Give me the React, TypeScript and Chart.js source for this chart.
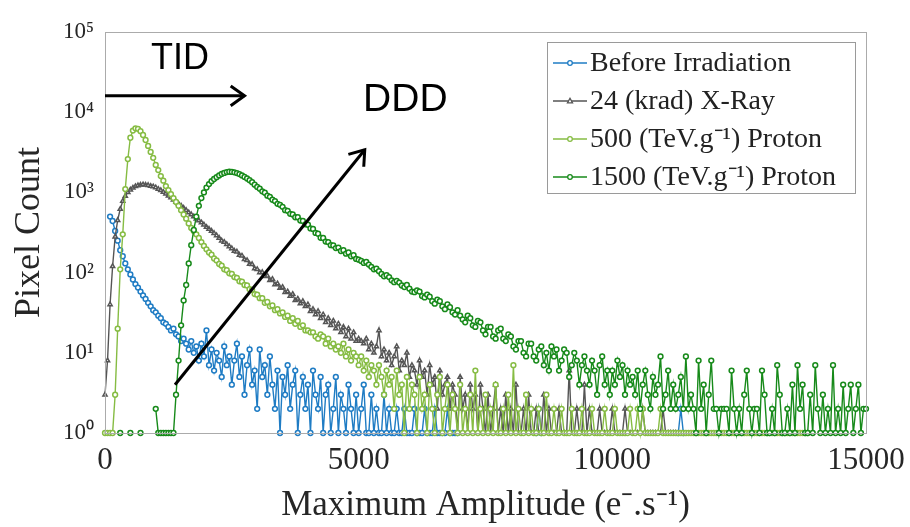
import { useEffect, useRef } from "react";
import { Chart, registerables } from "chart.js";

Chart.register(...registerables);

// ---------- data ----------
const BIN_WIDTH = 50; // e-.s-1 per histogram bin
const BIN_COUNT = 301;
const amplitudeBins: number[] = Array.from({ length: BIN_COUNT }, (_, i) => i * BIN_WIDTH);

const seriesLabels = [
  "Before Irradiation",
  "24 (krad) X-Ray",
  "500 (TeV.g\u207B\u00B9) Proton",
  "1500 (TeV.g\u207B\u00B9) Proton",
];

const beforeIrradiation: (number | null)[] = [
  null, null, 500, 440, 330, 250, 190, 160, 130, 110,
  95, 82, 72, 65, 58, 52, 47, 42, 38, 34,
  32, 29, 27, 24, 23, 21, 19, 20, 17, 16,
  14, 15, 13, 11, 14, 10, 12, 8, 13, 9,
  19, 7, 11, 6, 10, 8, 5, 12, 7, 9,
  4, 8, 13, 5, 9, 3, 7, 11, 4, 6,
  2, 11, 5, 7, 3, 9, 4, 2, 6, 1,
  5, 3, 7, 2, 4, 6, 1, 3, 5, 2,
  4, 1, 6, 3, 2, 5, 1, 3, 4, 1,
  2, 5, 1, 3, 2, 1, 4, 2, 1, 3,
  1, 2, 4, 1, 1, 3, 1, 2, 1, 1,
  3, 1, 2, 1, 1, 2, 1, 1, 2, 1,
  1, 1, 2, 1, 1, 1, 2, 1, 1, 1,
  2, 1, 1, 1, 1, 2, 1, 1, 1, 1,
  null, null, null, null, null, null, null, null, null, null,
  null, null, null, null, null, null, null, null, null, null,
  null, null, null, null, null, null, null, null, null, null,
  1, 2, 1, null, null, null, null, null, null, null,
  null, null, null, null, null, null, null, null, null, null,
  null, null, null, null, null, null, null, null, null, null,
  null, null, null, null, null, null, null, null, null, null,
  null, null, null, null, null, null, null, null, null, null,
  null, null, null, null, null, null, 1, 2, 1, null,
];

const xRay24krad: (number | null)[] = [
  3, 8, 40, 120, 280, 450, 620, 780, 900, 1000,
  1080, 1140, 1190, 1220, 1240, 1250, 1240, 1230, 1200, 1180,
  1150, 1100, 1060, 1010, 960, 910, 860, 810, 760, 720,
  680, 640, 600, 560, 530, 500, 470, 445, 420, 395,
  370, 350, 330, 310, 290, 270, 250, 240, 225, 212,
  200, 186, 182, 166, 162, 146, 142, 128, 127, 112,
  110, 100, 101, 90, 91, 80, 83, 71, 73, 64,
  66, 57, 58, 51, 54, 45, 47, 41, 44, 38,
  40, 33, 35, 30, 33, 27, 30, 24, 27, 22,
  25, 20, 23, 18, 21, 16, 20, 15, 18, 14,
  15, 14, 13, 15, 11, 13, 10, 12, 19, 9,
  11, 8, 10, 7, 9, 12, 6, 8, 7, 10,
  5, 7, 6, 4, 8, 5, 6, 3, 7, 4,
  5, 2, 6, 3, 4, 5, 2, 4, 3, 1,
  5, 2, 3, 1, 4, 2, 3, 1, 4, 2,
  1, 3, 1, 2, 4, 1, 2, 1, 3, 1,
  2, 1, 4, 1, 1, 2, 1, 3, 1, 1,
  2, 1, 1, 3, 1, 2, 1, 1, 1, 2,
  1, 1, 1, 6, 1, 1, 2, 1, 1, 4,
  1, 2, 1, 1, 1, 2, 1, 1, 1, 1,
  2, 1, 1, 1, 1, 2, 1, 1, 1, 1,
  1, 1, 2, 1, 1, 1, 1, 1, 1, 1,
  2, 1, 1, 1, 1, 1,
];

const proton500: (number | null)[] = [
  1, 1, 1, 1, 3, 20, 110, 300, 1100, 2600,
  4800, 5900, 6300, 6200, 5800, 5200, 4500, 3800, 3200, 2700,
  2200, 1900, 1600, 1400, 1200, 1070, 950, 850, 760, 680,
  600, 530, 470, 410, 360, 330, 300, 270, 240, 215,
  195, 178, 167, 150, 142, 128, 122, 110, 107, 98,
  96, 88, 86, 78, 77, 70, 69, 62, 61, 54,
  53, 48, 48, 42, 43, 38, 39, 34, 35, 31,
  32, 28, 29, 25, 27, 23, 25, 21, 22, 19,
  19, 18, 18, 16, 15, 17, 16, 13, 15, 12,
  13, 11, 12, 10, 13, 9, 11, 8, 10, 9,
  7, 9, 6, 8, 5, 7, 6, 4, 7, 5,
  3, 6, 4, 5, 2, 6, 3, 4, 1, 5,
  2, 4, 3, 1, 5, 2, 3, 1, 4, 2,
  1, 3, 5, 1, 2, 4, 1, 3, 2, 1,
  4, 1, 2, 1, 3, 1, 6, 1, 2, 1,
  3, 1, 2, 1, 4, 1, 1, 2, 1, 3,
  1, 7, 1, 2, 1, 1, 3, 1, 2, 1,
  1, 2, 1, 1, 3, 1, 1, 2, 1, 1,
  2, 1, 1, 1, 2, 1, 1, 1, 2, 1,
  1, 1, 2, 1, 1, 1, 1, 2, 1, 1,
  1, 2, 1, 1, 1, 1, 1, 2, 1, 1,
  2, 1, 2, 1, 1, 1, 1, 1, 1, 2,
  1, 1, 1, 1, 1, 1, 1, 1, 1, 1,
  1, 1, 1, 1, 1, 1, 1, 1, 1, 1,
  1, 1, 1, 1, 1, 1, 1, 1, 1, 1,
  1, 1, 1, 1, 1, 1, 1, 1, 1, 1,
  1, 1, 1, 1, 1, 1, 1, 1, 1, 1,
  1, 1, 1, 1, 1, 1, 1, 1,
];

const proton1500: (number | null)[] = [
  null, null, null, null, null, null, 1, null, null, null,
  1, null, null, null, 1, null, null, null, null, null,
  2, 1, 1, 1, 1, 1, 1, 1, 3, 8,
  22, 45, 70, 130, 220, 340, 500, 680, 850, 1000,
  1150, 1270, 1380, 1470, 1550, 1630, 1700, 1750, 1790, 1810,
  1800, 1780, 1740, 1690, 1630, 1560, 1490, 1420, 1340, 1250,
  1170, 1110, 1030, 990, 910, 880, 810, 780, 720, 700,
  660, 600, 590, 540, 530, 490, 490, 445, 440, 400,
  395, 355, 350, 312, 305, 272, 270, 244, 240, 220,
  218, 202, 205, 186, 190, 172, 178, 160, 165, 148,
  145, 140, 132, 136, 126, 118, 110, 112, 104, 96,
  90, 93, 88, 80, 76, 79, 75, 69, 66, 70,
  63, 58, 57, 60, 58, 51, 49, 53, 50, 44,
  41, 46, 44, 38, 35, 40, 37, 32, 30, 34,
  29, 26, 24, 29, 27, 22, 21, 25, 24, 19,
  17, 21, 21, 16, 15, 19, 20, 15, 14, 17,
  16, 12, 11, 14, 14, 10, 9, 13, 13, 9,
  8, 11, 12, 7, 10, 6, 12, 9, 11, 6,
  8, 11, 10, 5, 7, 10, 8, 4, 7, 9,
  6, 4, 8, 6, 3, 7, 9, 4, 6, 3,
  6, 4, 8, 5, 7, 3, 6, 4, 5, 3,
  6, 2, 4, 6, 3, 2, 5, 3, 4, 9,
  2, 3, 6, 2, 4, 2, 3, 5, 2, 9,
  2, 3, 2, 1, 8, 2, 4, 1, 3, 8,
  2, 2, 1, 2, 2, 2, 1, 6, 2, 1,
  2, 1, 3, 6, 2, 1, 2, 2, 1, 6,
  3, 1, 1, 2, 1, 7, 3, 1, 1, 2,
  1, 4, 1, 7, 2, 4, 1, 1, 3, 1,
  7, 2, 1, 3, 1, 2, 1, 7, 1, 2,
  1, 4, 1, 2, 4, 1, 2, 4, 1, 2,
  2,
];

const yTickValues = [1, 10, 100, 1000, 10000, 100000];
const xTickValues = [0, 5000, 10000, 15000];

// annotation anchors, in data units (amplitude, pixel count)
const tidArrow = { from: [0, 16000], to: [2750, 16000] };
const dddArrow = { from: [1380, 4], to: [5120, 3400] };
const tidLabel = { text: "TID", at: [1480, 46000] };
const dddLabel = { text: "DDD", at: [5920, 14000] };

// ---------- styles ----------
const colors = ["#1f7cc4", "#555555", "#86bc43", "#178a1a"];
const markerShapes = ["circle", "triangle", "circle", "circle"];
const drawOrder = [3, 2, 1, 0];
const SERIF = '"Liberation Serif", "Times New Roman", serif';
const SANS = '"Liberation Sans", Arial, sans-serif';
const SUP = ["\u2070", "\u00B9", "\u00B2", "\u00B3", "\u2074", "\u2075"];

function drawMarker(ctx: CanvasRenderingContext2D, shape: string, x: number, y: number, r: number) {
  ctx.beginPath();
  if (shape === "triangle") {
    ctx.moveTo(x, y - r * 1.2);
    ctx.lineTo(x + r * 1.1, y + r * 0.8);
    ctx.lineTo(x - r * 1.1, y + r * 0.8);
    ctx.closePath();
  } else {
    ctx.arc(x, y, r, 0, Math.PI * 2);
  }
  ctx.fill();
  ctx.stroke();
}

function drawArrow(ctx: CanvasRenderingContext2D, x1: number, y1: number, x2: number, y2: number) {
  const ang = Math.atan2(y2 - y1, x2 - x1);
  const head = 17;
  const spread = 0.62;
  ctx.beginPath();
  ctx.moveTo(x1, y1);
  ctx.lineTo(x2, y2);
  ctx.stroke();
  ctx.beginPath();
  ctx.moveTo(x2 - head * Math.cos(ang - spread), y2 - head * Math.sin(ang - spread));
  ctx.lineTo(x2, y2);
  ctx.lineTo(x2 - head * Math.cos(ang + spread), y2 - head * Math.sin(ang + spread));
  ctx.stroke();
}

const overlayPlugin = {
  id: "overlay",
  afterDraw(chart: any) {
    const { ctx, chartArea: a, scales } = chart;
    const xs = scales.x;
    const ys = scales.y;
    ctx.save();
    // frame
    ctx.strokeStyle = "#ababab";
    ctx.lineWidth = 1;
    ctx.strokeRect(Math.round(a.left) + 0.5, Math.round(a.top) + 0.5, Math.round(a.right - a.left), Math.round(a.bottom - a.top));

    // annotations
    ctx.strokeStyle = "#000";
    ctx.fillStyle = "#000";
    ctx.lineWidth = 3;
    ctx.lineCap = "butt";
    for (const ar of [tidArrow, dddArrow]) {
      drawArrow(
        ctx,
        xs.getPixelForValue(ar.from[0]),
        ys.getPixelForValue(ar.from[1]),
        xs.getPixelForValue(ar.to[0]),
        ys.getPixelForValue(ar.to[1])
      );
    }
    ctx.textAlign = "center";
    ctx.textBaseline = "middle";
    ctx.font = `36px ${SANS}`;
    ctx.fillText(tidLabel.text, xs.getPixelForValue(tidLabel.at[0]), ys.getPixelForValue(tidLabel.at[1]));
    ctx.font = `39px ${SANS}`;
    ctx.fillText(dddLabel.text, xs.getPixelForValue(dddLabel.at[0]), ys.getPixelForValue(dddLabel.at[1]));

    // legend
    const bx = 547, by = 42, bw = 308, bh = 151;
    ctx.fillStyle = "#fff";
    ctx.fillRect(bx, by, bw, bh);
    ctx.strokeStyle = "#9a9a9a";
    ctx.lineWidth = 1;
    ctx.strokeRect(bx + 0.5, by + 0.5, bw, bh);
    ctx.font = `28px ${SERIF}`;
    ctx.textAlign = "left";
    ctx.textBaseline = "middle";
    seriesLabels.forEach((label, k) => {
      const cy = by + 21 + k * 38;
      ctx.strokeStyle = colors[k];
      ctx.lineWidth = 1.6;
      ctx.beginPath();
      ctx.moveTo(bx + 6, cy);
      ctx.lineTo(bx + 40, cy);
      ctx.stroke();
      ctx.fillStyle = "#fff";
      ctx.lineWidth = 1.3;
      drawMarker(ctx, markerShapes[k], bx + 23, cy, 2.3);
      ctx.fillStyle = "#222";
      ctx.fillText(label, bx + 43, cy + 1);
    });
    ctx.restore();
  },
};

function toPoints(values: (number | null)[]) {
  return amplitudeBins.map((x, i) => ({ x, y: values[i] ?? null }));
}

export default function App() {
  const canvasRef = useRef<HTMLCanvasElement | null>(null);

  useEffect(() => {
    if (!canvasRef.current) return;
    const series = [beforeIrradiation, xRay24krad, proton500, proton1500];
    const chart = new Chart(canvasRef.current, {
      type: "line",
      data: {
        datasets: series.map((vals, k) => ({
          label: seriesLabels[k],
          data: toPoints(vals),
          borderColor: colors[k],
          backgroundColor: "#ffffff",
          pointBackgroundColor: "#ffffff",
          pointBorderColor: colors[k],
          pointStyle: markerShapes[k] as any,
          pointRadius: 2.4,
          pointBorderWidth: 1.5,
          borderWidth: 1.4,
          tension: 0,
          spanGaps: false,
          order: drawOrder[k],
          clip: false as any,
        })),
      },
      options: {
        animation: false,
        responsive: false,
        maintainAspectRatio: false,
        parsing: false as any,
        normalized: true,
        layout: { padding: { left: 0, right: 44, top: 32, bottom: 0 } },
        plugins: {
          legend: { display: false },
          tooltip: { enabled: false },
        },
        scales: {
          x: {
            type: "linear",
            min: 0,
            max: 15000,
            afterBuildTicks: (s: any) => {
              s.ticks = xTickValues.map((v) => ({ value: v }));
            },
            afterFit: (s: any) => {
              s.height = 94;
              s.paddingLeft = 0;
              s.paddingRight = 0;
            },
            ticks: {
              callback: (v: any) => String(v),
              font: { family: SERIF, size: 31 },
              color: "#262626",
              padding: 9,
              maxRotation: 0,
              autoSkip: false,
            },
            grid: { display: false, drawTicks: false },
            border: { display: true, color: "#ababab" },
            title: {
              display: true,
              text: "Maximum Amplitude (e\u207B.s\u207B\u00B9)",
              font: { family: SERIF, size: 35 },
              color: "#262626",
              padding: { top: 0, bottom: 0 },
            },
          },
          y: {
            type: "logarithmic",
            min: 1,
            max: 100000,
            afterBuildTicks: (s: any) => {
              s.ticks = yTickValues.map((v) => ({ value: v }));
            },
            afterFit: (s: any) => {
              s.width = 105;
              s.paddingTop = 0;
              s.paddingBottom = 0;
            },
            ticks: {
              callback: (v: any) => "10" + SUP[Math.round(Math.log10(Number(v)))],
              font: { family: SERIF, size: 23 },
              color: "#262626",
              padding: 11,
              autoSkip: false,
            },
            grid: { display: false, drawTicks: false },
            border: { display: true, color: "#ababab" },
            title: {
              display: true,
              text: "Pixel Count",
              font: { family: SERIF, size: 36 },
              color: "#262626",
              padding: { top: 8, bottom: 0 },
            },
          },
        },
      },
      plugins: [overlayPlugin],
    });
    return () => chart.destroy();
  }, []);

  return (
    <div style={{ position: "fixed", left: 0, top: 0, width: 910, height: 527, background: "#fff" }}>
      <canvas ref={canvasRef} width={910} height={527} style={{ display: "block" }} />
    </div>
  );
}
